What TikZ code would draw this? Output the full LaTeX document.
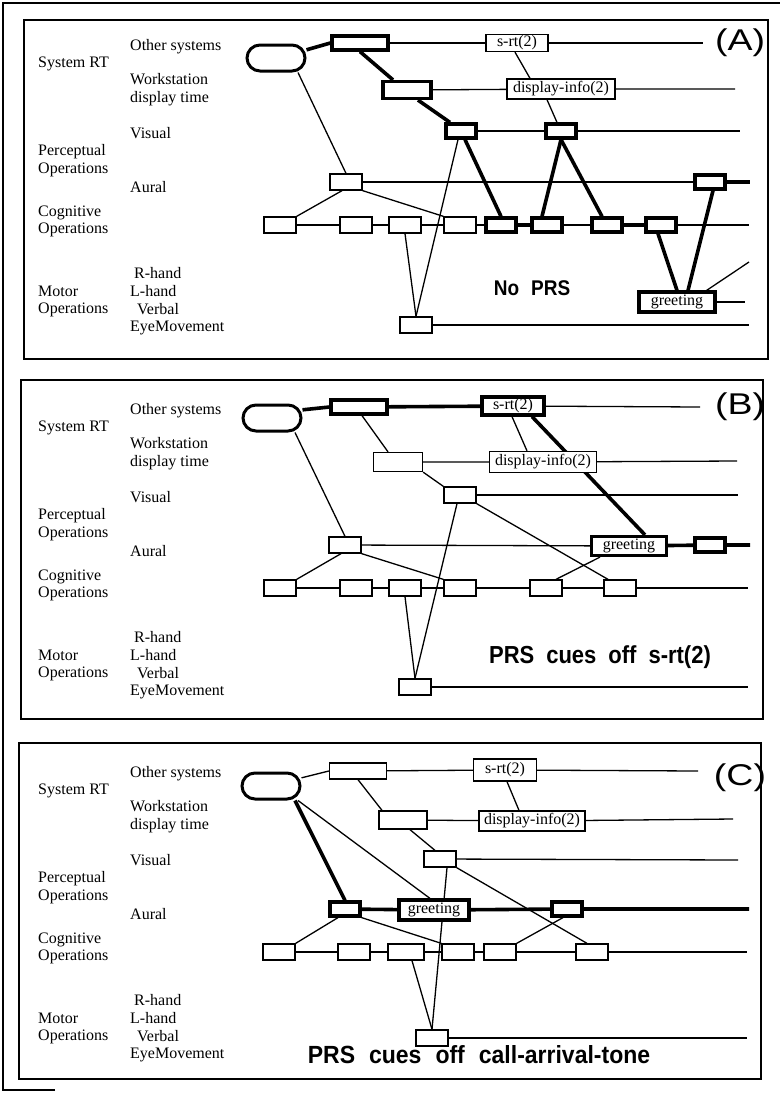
\documentclass[tikz,border=0pt]{standalone}
\usepackage{fontspec}
\setmainfont{Liberation Serif}
\setsansfont{Liberation Sans}
\usetikzlibrary{backgrounds}
\tikzset{
  op/.style={
    draw, fill=white, line width=1.3pt, inner sep=0pt,
    minimum width=32pt, minimum height=16pt,
    font=\fontsize{16}{18}\selectfont
  },
  opbold/.style={op, line width=3.2pt, minimum width=30pt, minimum height=14pt},
  rtbox/.style={
    draw, fill=white, line width=3pt, rounded corners=13pt,
    minimum width=58pt, minimum height=26pt
  },
  lane/.style={line width=1.3pt},
  crit/.style={line width=3.6pt},
  rowlbl/.style={font=\fontsize{16}{17.7}\selectfont, anchor=west, inner sep=0pt, align=left},
  tag/.style={font=\sffamily\fontsize{30}{32}\selectfont, inner sep=0pt},
  cue/.style={font=\sffamily\bfseries\fontsize{22}{24}\selectfont, inner sep=0pt},
  panel/.style={line width=1.4pt},
  frame/.style={line width=2.6pt},
}

\begin{document}
\begin{tikzpicture}[x=1pt, y=-1pt]
  \useasboundingbox (0,0) rectangle (780,1095);

  % frames
  \draw[frame] (55,1090) -- (3,1090) -- (3,3) -- (780,3);
  \draw[panel] (24,20) rectangle (768,359);
  \draw[panel] (21,380) rectangle (763,719);
  \draw[panel] (19,743) rectangle (761,1079);

  % row labels, the same in every panel
  \foreach \p/\dy in {a/0, b/364, c/727} {
    \node[rowlbl] (\p-sys) at (38,64+\dy) {System RT};
    \node[rowlbl] (\p-per) at (38,160.5+\dy) {Perceptual\\Operations};
    \node[rowlbl] (\p-cog) at (38,221.5+\dy) {Cognitive\\Operations};
    \node[rowlbl] (\p-mot) at (38,301.5+\dy) {Motor\\Operations};
    \node[rowlbl] (\p-oth) at (130,47+\dy) {Other systems};
    \node[rowlbl] (\p-wst) at (130,90+\dy) {Workstation\\display time};
    \node[rowlbl] (\p-vis) at (130,133+\dy) {Visual};
    \node[rowlbl] (\p-aur) at (130,187+\dy) {Aural};
    \node[rowlbl] (\p-ops) at (130,301.5+\dy)
      {\hspace*{4pt}R-hand\\L-hand\\\hspace*{7pt}Verbal\\EyeMovement};
  }

  % (A) no PRS
  \node[rtbox] (a-rt) at (276,58) {};
  \node[opbold, minimum width=56pt] (a-os) at (360,43) {};
  \node[op, minimum width=62pt, minimum height=17pt] (a-srt) at (517,43) {s-rt(2)};
  \node[opbold, minimum width=48pt, minimum height=17pt] (a-ws) at (407,90) {};
  \node[op, minimum width=108pt, minimum height=20pt] (a-disp) at (561,89) {display-info(2)};
  \node[opbold] (a-vis1) at (461,131) {};
  \node[opbold] (a-vis2) at (561,131) {};
  \node[op] (a-au1) at (346,182) {};
  \node[opbold] (a-au2) at (710,182) {};
  \foreach \n/\x in {1/280,2/356,3/405,4/460}
    \node[op] (a-cog\n) at (\x,225) {};
  \foreach \n/\x in {5/501,6/547,7/607,8/661}
    \node[opbold] (a-cog\n) at (\x,225) {};
  \node[opbold, minimum width=76pt, minimum height=20pt] (a-greet) at (677,302) {greeting};
  \node[op] (a-eye) at (416,325) {};
  \coordinate (a-oend) at (703,43);
  \coordinate (a-wend) at (735,89);
  \coordinate (a-vend) at (740,131);
  \coordinate (a-aend) at (750,182);
  \coordinate (a-cend) at (749,225);
  \coordinate (a-rend) at (749,262);
  \coordinate (a-gend) at (745,302);
  \coordinate (a-eend) at (749,325);
  \node[tag] (a-tag) at (740,43) {\scalebox{1.25}[1]{(A)}};
  \node[cue, font=\sffamily\bfseries\fontsize{19}{21}\selectfont] (a-cue) at (532,288)
    {\scalebox{1}[1.12]{No\hspace{12pt}PRS}};

  \begin{scope}[on background layer]
    \draw[lane] (a-os) -- (a-srt) -- (a-oend);
    \draw[lane] (a-ws) -- (a-disp) -- (a-wend);
    \draw[lane] (a-vis1) -- (a-vis2) -- (a-vend);
    \draw[lane] (a-au1) -- (a-au2);
    \draw[crit] (a-au2) -- (a-aend);
    \draw[lane] (a-cog1) -- (a-cog2) -- (a-cog3) -- (a-cog4) -- (a-cog5);
    \draw[crit] (a-cog5) -- (a-cog6);
    \draw[lane] (a-cog6) -- (a-cog7);
    \draw[crit] (a-cog7) -- (a-cog8);
    \draw[lane] (a-cog8) -- (a-cend);
    \draw[lane] (a-greet) -- (a-gend);
    \draw[lane] (a-eye) -- (a-eend);
    \draw[crit] (a-rt.15) -- (a-os.west);
    \draw[crit] (a-os.south) -- ([xshift=-14pt]a-ws.north);
    \draw[crit] ([xshift=11pt]a-ws.south) -- ([xshift=-11pt]a-vis1.north);
    \draw[lane] ([xshift=22pt]a-rt.south) -- (a-au1.north);
    \draw[lane] ([xshift=-4pt]a-au1.south) -- (a-cog1.north east);
    \draw[lane] (a-au1.south east) -- (a-cog4.north west);
    \draw[lane] ([xshift=-3pt]a-vis1.south) -- (a-eye.north);
    \draw[lane] (a-cog3.south) -- (a-eye.north);
    \draw[crit] ([xshift=4pt]a-vis1.south) -- (a-cog5.north);
    \draw[lane] ([xshift=-2pt]a-srt.south) -- ([xshift=-31pt]a-disp.north);
    \draw[lane] ([xshift=-14pt]a-disp.south) -- ([xshift=-4pt]a-vis2.north);
    \draw[crit] (a-vis2.south) -- ([xshift=-5pt]a-cog6.north);
    \draw[crit] (a-vis2.south) -- ([xshift=-5pt]a-cog7.north);
    \draw[crit] ([xshift=3pt]a-au2.south) -- ([xshift=11pt]a-greet.north);
    \draw[crit] ([xshift=-3pt]a-cog8.south) -- (a-greet.north);
    \draw[lane] ([xshift=-10pt]a-greet.north east) -- (a-rend);
  \end{scope}

  % (B) PRS cues off s-rt(2)
  \node[rtbox] (b-rt) at (272,418) {};
  \node[opbold, minimum width=56pt] (b-os) at (359,407) {};
  \node[opbold, minimum width=62pt, minimum height=18pt] (b-srt) at (513,406) {s-rt(2)};
  \node[op, minimum width=49pt, minimum height=19pt] (b-ws) at (398,462) {};
  \node[op, minimum width=107pt, minimum height=21pt] (b-disp) at (543,462) {display-info(2)};
  \node[op] (b-vis1) at (460,495) {};
  \node[op] (b-au1) at (345,545) {};
  \node[opbold, minimum width=75pt, minimum height=19pt] (b-greet) at (629,546) {greeting};
  \node[opbold] (b-au2) at (710,545) {};
  \foreach \n/\x in {1/280,2/356,3/405,4/460,5/546,6/620}
    \node[op] (b-cog\n) at (\x,588) {};
  \node[op] (b-eye) at (415,687) {};
  \coordinate (b-oend) at (700,407);
  \coordinate (b-wend) at (737,461);
  \coordinate (b-vend) at (738,495);
  \coordinate (b-aend) at (750,545);
  \coordinate (b-cend) at (748,588);
  \coordinate (b-eend) at (748,687);
  \node[tag] (b-tag) at (740,407) {\scalebox{1.25}[1]{(B)}};
  \node[cue] (b-cue) at (600,657)
    {\scalebox{1}[1.12]{PRS\hspace{12pt}cues\hspace{12pt}off\hspace{12pt}s-rt(2)}};

  \begin{scope}[on background layer]
    \draw[crit] (b-os) -- (b-srt);
    \draw[lane] (b-srt) -- (b-oend);
    \draw[lane] (b-ws) -- (b-disp) -- (b-wend);
    \draw[lane] (b-vis1) -- (b-vend);
    \draw[lane] (b-au1) -- (b-greet);
    \draw[crit] (b-greet) -- (b-au2) -- (b-aend);
    \draw[lane] (b-cog1) -- (b-cog2) -- (b-cog3) -- (b-cog4) -- (b-cog5) -- (b-cog6) -- (b-cend);
    \draw[lane] (b-eye) -- (b-eend);
    \draw[crit] (b-rt.15) -- (b-os.west);
    \draw[lane] ([xshift=3pt]b-os.south) -- ([xshift=-10pt]b-ws.north);
    \draw[lane] ([xshift=23pt]b-rt.south) -- (b-au1.north);
    \draw[lane] (b-ws.south east) -- (b-vis1.north west);
    \draw[lane] ([xshift=-4pt]b-au1.south) -- (b-cog1.north east);
    \draw[lane] (b-au1.south east) -- (b-cog4.north west);
    \draw[lane] ([xshift=-3pt]b-vis1.south) -- (b-eye.north);
    \draw[lane] (b-cog3.south) -- (b-eye.north);
    \draw[lane] (b-vis1.south east) -- ([xshift=-12pt]b-cog6.north);
    \draw[lane] ([xshift=-1pt]b-srt.south) -- ([xshift=-16pt]b-disp.north);
    \draw[crit] ([xshift=19pt]b-srt.south) -- ([xshift=16pt]b-greet.north);
    \draw[lane] ([xshift=-29pt]b-greet.south) -- ([xshift=10pt]b-cog5.north);
  \end{scope}

  % (C) PRS cues off call-arrival-tone
  \node[rtbox] (c-rt) at (271,786) {};
  \node[op, minimum width=57pt] (c-os) at (358,771) {};
  \node[op, minimum width=63pt, minimum height=22pt] (c-srt) at (505,770) {s-rt(2)};
  \node[op, minimum width=48pt, minimum height=18pt] (c-ws) at (403,820) {};
  \node[op, minimum width=106pt, minimum height=20pt] (c-disp) at (532,821) {display-info(2)};
  \node[op] (c-vis1) at (440,859) {};
  \node[opbold] (c-au1) at (345,909) {};
  \node[opbold, minimum width=70pt, minimum height=20pt] (c-greet) at (434,910) {greeting};
  \node[opbold] (c-au2) at (567,909) {};
  \foreach \n/\x in {1/279,2/354,4/458,5/500,6/592}
    \node[op] (c-cog\n) at (\x,952) {};
  \node[op, minimum width=36pt] (c-cog3) at (406,952) {};
  \node[op] (c-eye) at (432,1038) {};
  \coordinate (c-oend) at (698,771);
  \coordinate (c-wend) at (733,819);
  \coordinate (c-vend) at (738,860);
  \coordinate (c-aend) at (749,909);
  \coordinate (c-cend) at (747,952);
  \coordinate (c-eend) at (747,1038);
  \node[tag] (c-tag) at (740,778) {\scalebox{1.25}[1]{(C)}};
  \node[cue, font=\sffamily\bfseries\fontsize{23}{25}\selectfont] (c-cue) at (479,1055)
    {\scalebox{1}[1.08]{PRS\hspace{14pt}cues\hspace{14pt}off\hspace{14pt}call-arrival-tone}};

  \begin{scope}[on background layer]
    \draw[lane] (c-os) -- (c-srt) -- (c-oend);
    \draw[lane] (c-ws) -- (c-disp) -- (c-wend);
    \draw[lane] (c-vis1) -- (c-vend);
    \draw[crit] (c-au1) -- (c-greet) -- (c-au2) -- (c-aend);
    \draw[lane] (c-cog1) -- (c-cog2) -- (c-cog3) -- (c-cog4) -- (c-cog5) -- (c-cog6) -- (c-cend);
    \draw[lane] (c-eye) -- (c-eend);
    \draw[lane] (c-rt.15) -- (c-os.west);
    \draw[lane] (c-os.south) -- ([xshift=-21pt]c-ws.north);
    \draw[lane] ([xshift=2pt]c-srt.south) -- ([xshift=-13pt]c-disp.north);
    \draw[lane] ([xshift=7pt]c-ws.south) -- ([xshift=-5pt]c-vis1.north);
    \draw[crit] ([xshift=24pt]c-rt.south) -- (c-au1.north);
    \draw[lane] ([xshift=27pt]c-rt.south) -- ([xshift=-4pt]c-greet.north);
    \draw[lane] ([xshift=7pt]c-vis1.south) -- (c-eye.north);
    \draw[lane] ([xshift=6pt]c-cog3.south) -- (c-eye.north);
    \draw[lane] (c-vis1.south east) -- ([xshift=-5pt]c-cog6.north);
    \draw[lane] (c-au1.south east) -- (c-cog4.north west);
    \draw[lane] ([xshift=-7pt]c-au1.south) -- (c-cog1.north east);
    \draw[lane] ([xshift=-4pt]c-au2.south) -- (c-cog5.north east);
  \end{scope}
\end{tikzpicture}
\end{document}
